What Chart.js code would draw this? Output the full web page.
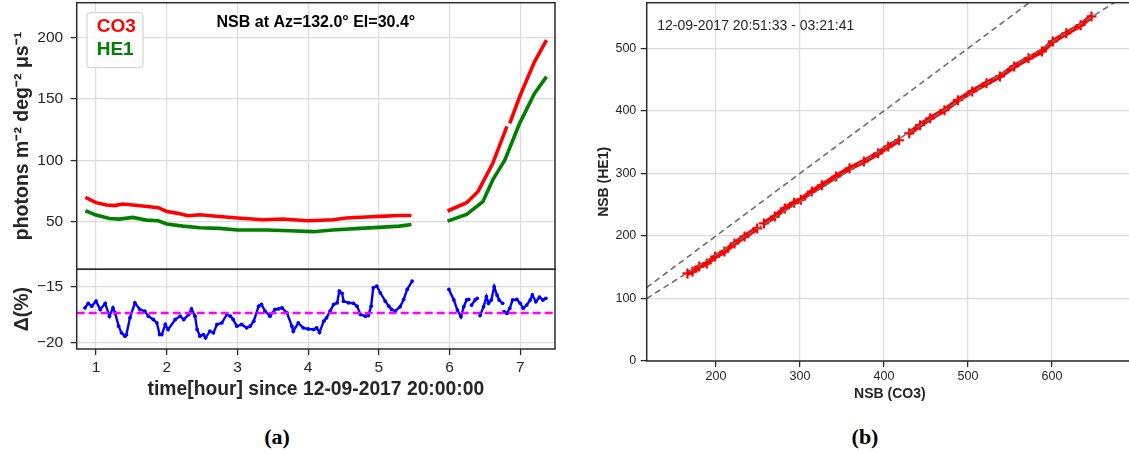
<!DOCTYPE html>
<html>
<head>
<meta charset="utf-8">
<script src="https://cdn.jsdelivr.net/npm/chart.js@4.4.1/dist/chart.umd.min.js"></script>
<style>
    html, body { margin: 0; padding: 0; background: #fff; overflow: hidden; }
    body { width: 1129px; height: 452px; position: relative; }
    .box { position: absolute; }
    .tag { position: absolute; font: bold 22px 'Liberation Serif', 'Times New Roman', serif; color: #000; transform: translate(-50%, -50%); }
</style>
</head>
<body>
<div class="box" style="left:0;top:0"><canvas id="nsbChart" width="560" height="270"></canvas></div>
<div class="box" style="left:0;top:262px"><canvas id="deltaChart" width="560" height="150"></canvas></div>
<div class="box" style="left:580px;top:0"><canvas id="corrChart" width="560" height="420"></canvas></div>
<div class="tag" style="left:277px;top:437px">(a)</div>
<div class="tag" style="left:865px;top:437px">(b)</div>
<script>
// (a) top: NSB of the two cameras vs time
const co3Hours = [0.85, 1.0, 1.15, 1.26, 1.38, 1.52, 1.66, 1.88, 2.0, 2.14, 2.3, 2.47, 2.7, 3.0, 3.36, 3.64, 4.0, 4.35, 4.54, 4.82, 5.0, 5.29, 5.46, 5.7, 5.97, 6.24, 6.4, 6.61, 6.81, 6.825, 6.85, 6.99, 7.2, 7.37];
const co3Values = [69.8, 65.5, 63.6, 63.1, 64.4, 63.6, 62.8, 61.4, 58.3, 57.0, 54.9, 55.7, 54.5, 53.0, 51.6, 52.2, 50.8, 51.6, 53.0, 53.8, 54.3, 55.1, 55.1, null, 58.7, 65.4, 74.4, 97.5, 127.5, null, 130, 151.6, 180, 197.7];
const he1Hours = [0.85, 1.0, 1.19, 1.33, 1.52, 1.71, 1.88, 2.0, 2.23, 2.47, 2.75, 3.0, 3.41, 3.74, 4.07, 4.35, 4.73, 5.0, 5.29, 5.46, 5.7, 5.97, 6.24, 6.47, 6.61, 6.78, 6.99, 7.2, 7.37];
const he1Values = [58.9, 55.4, 52.6, 52.1, 53.5, 51.3, 50.8, 48.1, 46.4, 45.1, 44.6, 43.2, 43.2, 42.7, 41.9, 43.2, 44.6, 45.4, 46.4, 47.8, null, 50.5, 56, 66.3, 84, 100, 130, 154.4, 168];

// (a) bottom: relative difference in %
const deltaHours = [0.844, 0.89, 0.94, 1.0, 1.06, 1.13, 1.19, 1.24, 1.27, 1.32, 1.36, 1.41, 1.43, 1.48, 1.55, 1.62, 1.69, 1.74, 1.81, 1.86, 1.9, 1.93, 1.98, 2.02, 2.12, 2.19, 2.24, 2.31, 2.35, 2.4, 2.43, 2.47, 2.52, 2.55, 2.61, 2.66, 2.71, 2.78, 2.85, 2.9, 2.94, 2.99, 3.06, 3.13, 3.18, 3.23, 3.3, 3.34, 3.39, 3.46, 3.53, 3.58, 3.63, 3.7, 3.77, 3.79, 3.86, 3.93, 4.0, 4.08, 4.12, 4.16, 4.22, 4.26, 4.31, 4.36, 4.41, 4.44, 4.48, 4.5, 4.57, 4.64, 4.69, 4.74, 4.81, 4.85, 4.89, 4.92, 4.97, 5.02, 5.09, 5.14, 5.18, 5.23, 5.3, 5.35, 5.4, 5.47, 5.7, 5.99, 6.06, 6.11, 6.16, 6.2, 6.24, 6.27, 6.29, 6.31, 6.36, 6.39, 6.41, 6.43, 6.48, 6.52, 6.55, 6.59, 6.63, 6.67, 6.7, 6.75, 6.76, 6.77, 6.81, 6.85, 6.89, 6.95, 7.0, 7.04, 7.09, 7.14, 7.17, 7.22, 7.27, 7.32, 7.36];
const deltaValues = [-16.9, -16.5, -16.75, -16.3, -17.05, -16.5, -17.65, -16.9, -17.35, -18.55, -19.15, -19.45, -19.3, -17.8, -16.45, -17.05, -17.2, -17.65, -17.95, -18.25, -19.3, -19.3, -18.4, -18.85, -17.95, -17.65, -17.95, -17.5, -17.0, -17.65, -18.85, -19.45, -19.3, -19.6, -19.0, -19.15, -18.4, -18.25, -17.5, -17.65, -17.95, -18.55, -18.4, -18.7, -18.55, -18.1, -16.75, -16.6, -17.2, -17.65, -17.05, -17.0, -16.9, -17.35, -18.55, -19.0, -18.25, -18.7, -18.8, -18.85, -18.7, -19.1, -18.1, -17.8, -17.2, -16.6, -16.45, -15.4, -15.6, -16.3, -16.45, -16.5, -16.75, -17.5, -17.65, -17.6, -16.75, -15.1, -14.95, -15.55, -16.3, -16.75, -17.05, -17.2, -16.8, -16.15, -15.25, -14.5, null, -15.25, -16.2, -17.1, -17.7, -16.8, -16.2, -16.15, null, -16.65, -16.2, -16.05, null, -17.6, -16.8, -15.9, -16.5, -16.2, -15.0, -15.75, -16.2, -16.5, null, -17.25, -17.4, -16.95, -16.2, -16.15, -16.5, -16.95, -16.65, -16.2, -15.75, -16.35, -15.95, -16.2, -16.05];
const deltaMean = -17.36;

// (b): HE1 vs CO3
const nsbCO3 = [166, 172, 180, 189, 199, 210, 222, 234, 249, 253, 257, 270, 282, 293, 301, 314, 326, 343, 359, 376, 393, 405, 418, 424, 430, 443, 455, 472, 488, 505, 522, 538, 555, 572, 588, 601, 617, 634, 647];
const nsbHE1 = [140, 143, 151, 156, 167, 175, 188, 199, 212, null, 220, 231, 244, 253, 258, 271, 281, 295, 308, 319, 332, 343, 353, null, 364, 377, 388, 401, 417, 431, 444, 455, 471, 484, 495, 511, 524, 537, 551];
const refSlopes = [1, 0.85];

const hourTicks = [1, 2, 3, 4, 5, 6, 7];
const nsbTicks = [50, 100, 150, 200];
const deltaTicks = [-20, -15];
const corrXTicks = [200, 300, 400, 500, 600];
const corrYTicks = [0, 100, 200, 300, 400, 500];

const topTitle = 'NSB at Az=132.0\u00b0 El=30.4\u00b0';
const rangeLabel = '12-09-2017 20:51:33 - 03:21:41';

Chart.defaults.font.family = '"Liberation Sans", Arial, sans-serif';
Chart.defaults.color = '#262626';

const gridColor = '#dcdcdc';
const spineColor = '#2b2b2b';
const fontFamily = Chart.defaults.font.family;

function points(xs, ys) {
    return xs.map((x, i) => ({ x: x, y: ys[i] }));
}

function fixedTicks(values) {
    return function (scale) {
        scale.ticks = values.map(v => ({ value: v }));
    };
}

function fixAxis(size) {
    return function (scale) {
        if (scale.isHorizontal()) {
            scale.height = size;
        } else {
            scale.width = size;
        }
        scale.paddingTop = 0;
        scale.paddingBottom = 0;
        scale.paddingLeft = 0;
        scale.paddingRight = 0;
    };
}

function minusSign(v) {
    return v < 0 ? '\u2212' + Math.abs(v) : '' + v;
}

const framePlugin = {
    id: 'frame',
    afterDatasetsDraw(chart, args, opts) {
        const a = chart.chartArea;
        const ctx = chart.ctx;
        ctx.save();
        ctx.strokeStyle = opts.color || spineColor;
        ctx.lineWidth = opts.width || 1.5;
        ctx.strokeRect(a.left, a.top, a.right - a.left, a.bottom - a.top);
        ctx.restore();
    }
};

const nsbLegendPlugin = {
    id: 'nsbLegend',
    afterDatasetsDraw(chart) {
        const a = chart.chartArea;
        const ctx = chart.ctx;
        ctx.save();
        ctx.font = 'bold 16px ' + fontFamily;
        ctx.fillStyle = '#000';
        ctx.textAlign = 'center';
        ctx.textBaseline = 'middle';
        ctx.fillText(topTitle, (a.left + a.right) / 2, a.top + 20);

        const x = a.left + 10.3, y = a.top + 10, w = 56, h = 55, r = 3;
        ctx.beginPath();
        ctx.moveTo(x + r, y);
        ctx.lineTo(x + w - r, y);
        ctx.quadraticCurveTo(x + w, y, x + w, y + r);
        ctx.lineTo(x + w, y + h - r);
        ctx.quadraticCurveTo(x + w, y + h, x + w - r, y + h);
        ctx.lineTo(x + r, y + h);
        ctx.quadraticCurveTo(x, y + h, x, y + h - r);
        ctx.lineTo(x, y + r);
        ctx.quadraticCurveTo(x, y, x + r, y);
        ctx.closePath();
        ctx.fillStyle = 'rgba(255,255,255,0.85)';
        ctx.fill();
        ctx.strokeStyle = '#cccccc';
        ctx.lineWidth = 1;
        ctx.stroke();

        ctx.font = 'bold 19px ' + fontFamily;
        ctx.textAlign = 'left';
        chart.data.datasets.forEach(function (ds, i) {
            ctx.fillStyle = ds.borderColor;
            ctx.fillText(ds.label, x + 9.7, y + 14.3 + i * 23);
        });
        ctx.restore();
    }
};

const rangeLabelPlugin = {
    id: 'rangeLabel',
    afterDatasetsDraw(chart) {
        const a = chart.chartArea;
        const ctx = chart.ctx;
        ctx.save();
        ctx.font = '14px ' + fontFamily;
        ctx.fillStyle = '#262626';
        ctx.textAlign = 'left';
        ctx.textBaseline = 'middle';
        ctx.fillText(rangeLabel, a.left + 10.6, a.top + 23.3);
        ctx.restore();
    }
};

function baseOptions(padding) {
    return {
        responsive: false,
        animation: false,
        layout: { padding: padding, autoPadding: false },
        plugins: {
            legend: { display: false },
            tooltip: { enabled: false },
            frame: { color: spineColor, width: 1.5 }
        }
    };
}

// top panel
const nsbOptions = baseOptions({ top: 2.7, right: 5, bottom: 0.7, left: 0 });
nsbOptions.scales = {
    x: {
        type: 'linear', min: 0.727, max: 7.49,
        afterBuildTicks: fixedTicks(hourTicks),
        afterFit: fixAxis(0),
        ticks: { display: false },
        grid: { color: gridColor, lineWidth: 1.2, drawTicks: false },
        border: { display: false }
    },
    y: {
        min: 11.3, max: 228.1,
        afterBuildTicks: fixedTicks(nsbTicks),
        afterFit: fixAxis(76.7),
        ticks: { font: { size: 15.5 }, padding: 7.5, color: '#262626' },
        grid: { color: gridColor, lineWidth: 1.2, tickLength: 6, tickColor: spineColor, tickWidth: 1.3 },
        border: { display: false },
        title: {
            display: true,
            text: 'photons m\u207b\u00b2 deg\u207b\u00b2 \u03bcs\u207b\u00b9',
            font: { size: 19.5, weight: 'bold' },
            color: '#262626',
            padding: { top: 10.8, bottom: 0 }
        }
    }
};

new Chart(document.getElementById('nsbChart'), {
    type: 'line',
    data: {
        datasets: [
            { label: 'CO3', data: points(co3Hours, co3Values), borderColor: '#ff0000', borderWidth: 3.6, pointRadius: 0, spanGaps: false, tension: 0 },
            { label: 'HE1', data: points(he1Hours, he1Values), borderColor: '#008000', borderWidth: 3.6, pointRadius: 0, spanGaps: false, tension: 0 }
        ]
    },
    options: nsbOptions,
    plugins: [framePlugin, nsbLegendPlugin]
});

// bottom panel
const deltaOptions = baseOptions({ top: 7.3, right: 5, bottom: 0, left: 0 });
deltaOptions.scales = {
    x: {
        type: 'linear', min: 0.727, max: 7.49,
        afterBuildTicks: fixedTicks(hourTicks),
        afterFit: fixAxis(63),
        ticks: { font: { size: 15.5 }, padding: 3.5, maxRotation: 0, color: '#262626' },
        grid: { color: gridColor, lineWidth: 1.2, tickLength: 6, tickColor: spineColor, tickWidth: 1.3 },
        border: { display: false },
        title: {
            display: true,
            text: 'time[hour] since 12-09-2017 20:00:00',
            font: { size: 19.3, weight: 'bold' },
            color: '#262626',
            padding: { top: 0, bottom: 10.4 }
        }
    },
    y: {
        min: -20.6, max: -13.44,
        afterBuildTicks: fixedTicks(deltaTicks),
        afterFit: fixAxis(76.7),
        ticks: { font: { size: 15.5 }, padding: 7.5, color: '#262626', callback: minusSign },
        grid: { color: gridColor, lineWidth: 1.2, tickLength: 6, tickColor: spineColor, tickWidth: 1.3 },
        border: { display: false },
        title: {
            display: true,
            text: '\u0394(%)',
            font: { size: 19.5, weight: 'bold' },
            color: '#262626',
            padding: { top: 10.8, bottom: 0 }
        }
    }
};

new Chart(document.getElementById('deltaChart'), {
    type: 'line',
    data: {
        datasets: [
            {
                label: 'mean',
                data: [{ x: 0.727, y: deltaMean }, { x: 7.49, y: deltaMean }],
                borderColor: '#ff00ff', borderWidth: 2.6, borderDash: [8, 4], pointRadius: 0
            },
            {
                label: 'delta',
                data: points(deltaHours, deltaValues),
                borderColor: '#0000ff', backgroundColor: '#0000ff', borderWidth: 2.4,
                pointRadius: 1.9, pointBorderWidth: 0, spanGaps: false, tension: 0
            }
        ]
    },
    options: deltaOptions,
    plugins: [framePlugin]
});

// right panel
const corrXMin = 117.5, corrXMax = 696.4;
const corrOptions = baseOptions({ top: 2.7, right: 7, bottom: 0, left: 0 });
corrOptions.scales = {
    x: {
        type: 'linear', min: corrXMin, max: corrXMax,
        afterBuildTicks: fixedTicks(corrXTicks),
        afterFit: fixAxis(59),
        ticks: { font: { size: 12.5 }, padding: 2.5, maxRotation: 0, color: '#262626' },
        grid: { color: gridColor, lineWidth: 1.2, tickLength: 6, tickColor: spineColor, tickWidth: 1.3 },
        border: { display: false },
        title: {
            display: true,
            text: 'NSB (CO3)',
            font: { size: 14, weight: 'bold' },
            color: '#262626',
            padding: { top: 0, bottom: 17.6 }
        }
    },
    y: {
        min: 0, max: 572.9,
        afterBuildTicks: fixedTicks(corrYTicks),
        afterFit: fixAxis(66.7),
        ticks: { font: { size: 12.5 }, padding: 4.4, color: '#262626' },
        grid: { color: gridColor, lineWidth: 1.2, tickLength: 6, tickColor: spineColor, tickWidth: 1.3 },
        border: { display: false },
        title: {
            display: true,
            text: 'NSB (HE1)',
            font: { size: 14, weight: 'bold' },
            color: '#262626',
            padding: { top: 15.6, bottom: 0 }
        }
    }
};

const refLines = refSlopes.map(function (s) {
    return {
        label: 'y=' + s + 'x',
        data: [{ x: corrXMin, y: s * corrXMin }, { x: corrXMax, y: s * corrXMax }],
        borderColor: '#6e6e6e', borderWidth: 1.6, borderDash: [6, 4], pointRadius: 0
    };
});

new Chart(document.getElementById('corrChart'), {
    type: 'line',
    data: {
        datasets: refLines.concat([{
            label: 'NSB',
            data: points(nsbCO3, nsbHE1),
            borderColor: '#ff0000', borderWidth: 5, backgroundColor: '#ff0000',
            pointStyle: 'cross', pointRadius: 5, pointBorderWidth: 2.2, pointBorderColor: '#ff0000',
            spanGaps: false, tension: 0
        }])
    },
    options: corrOptions,
    plugins: [framePlugin, rangeLabelPlugin]
});
</script>
</body>
</html>
